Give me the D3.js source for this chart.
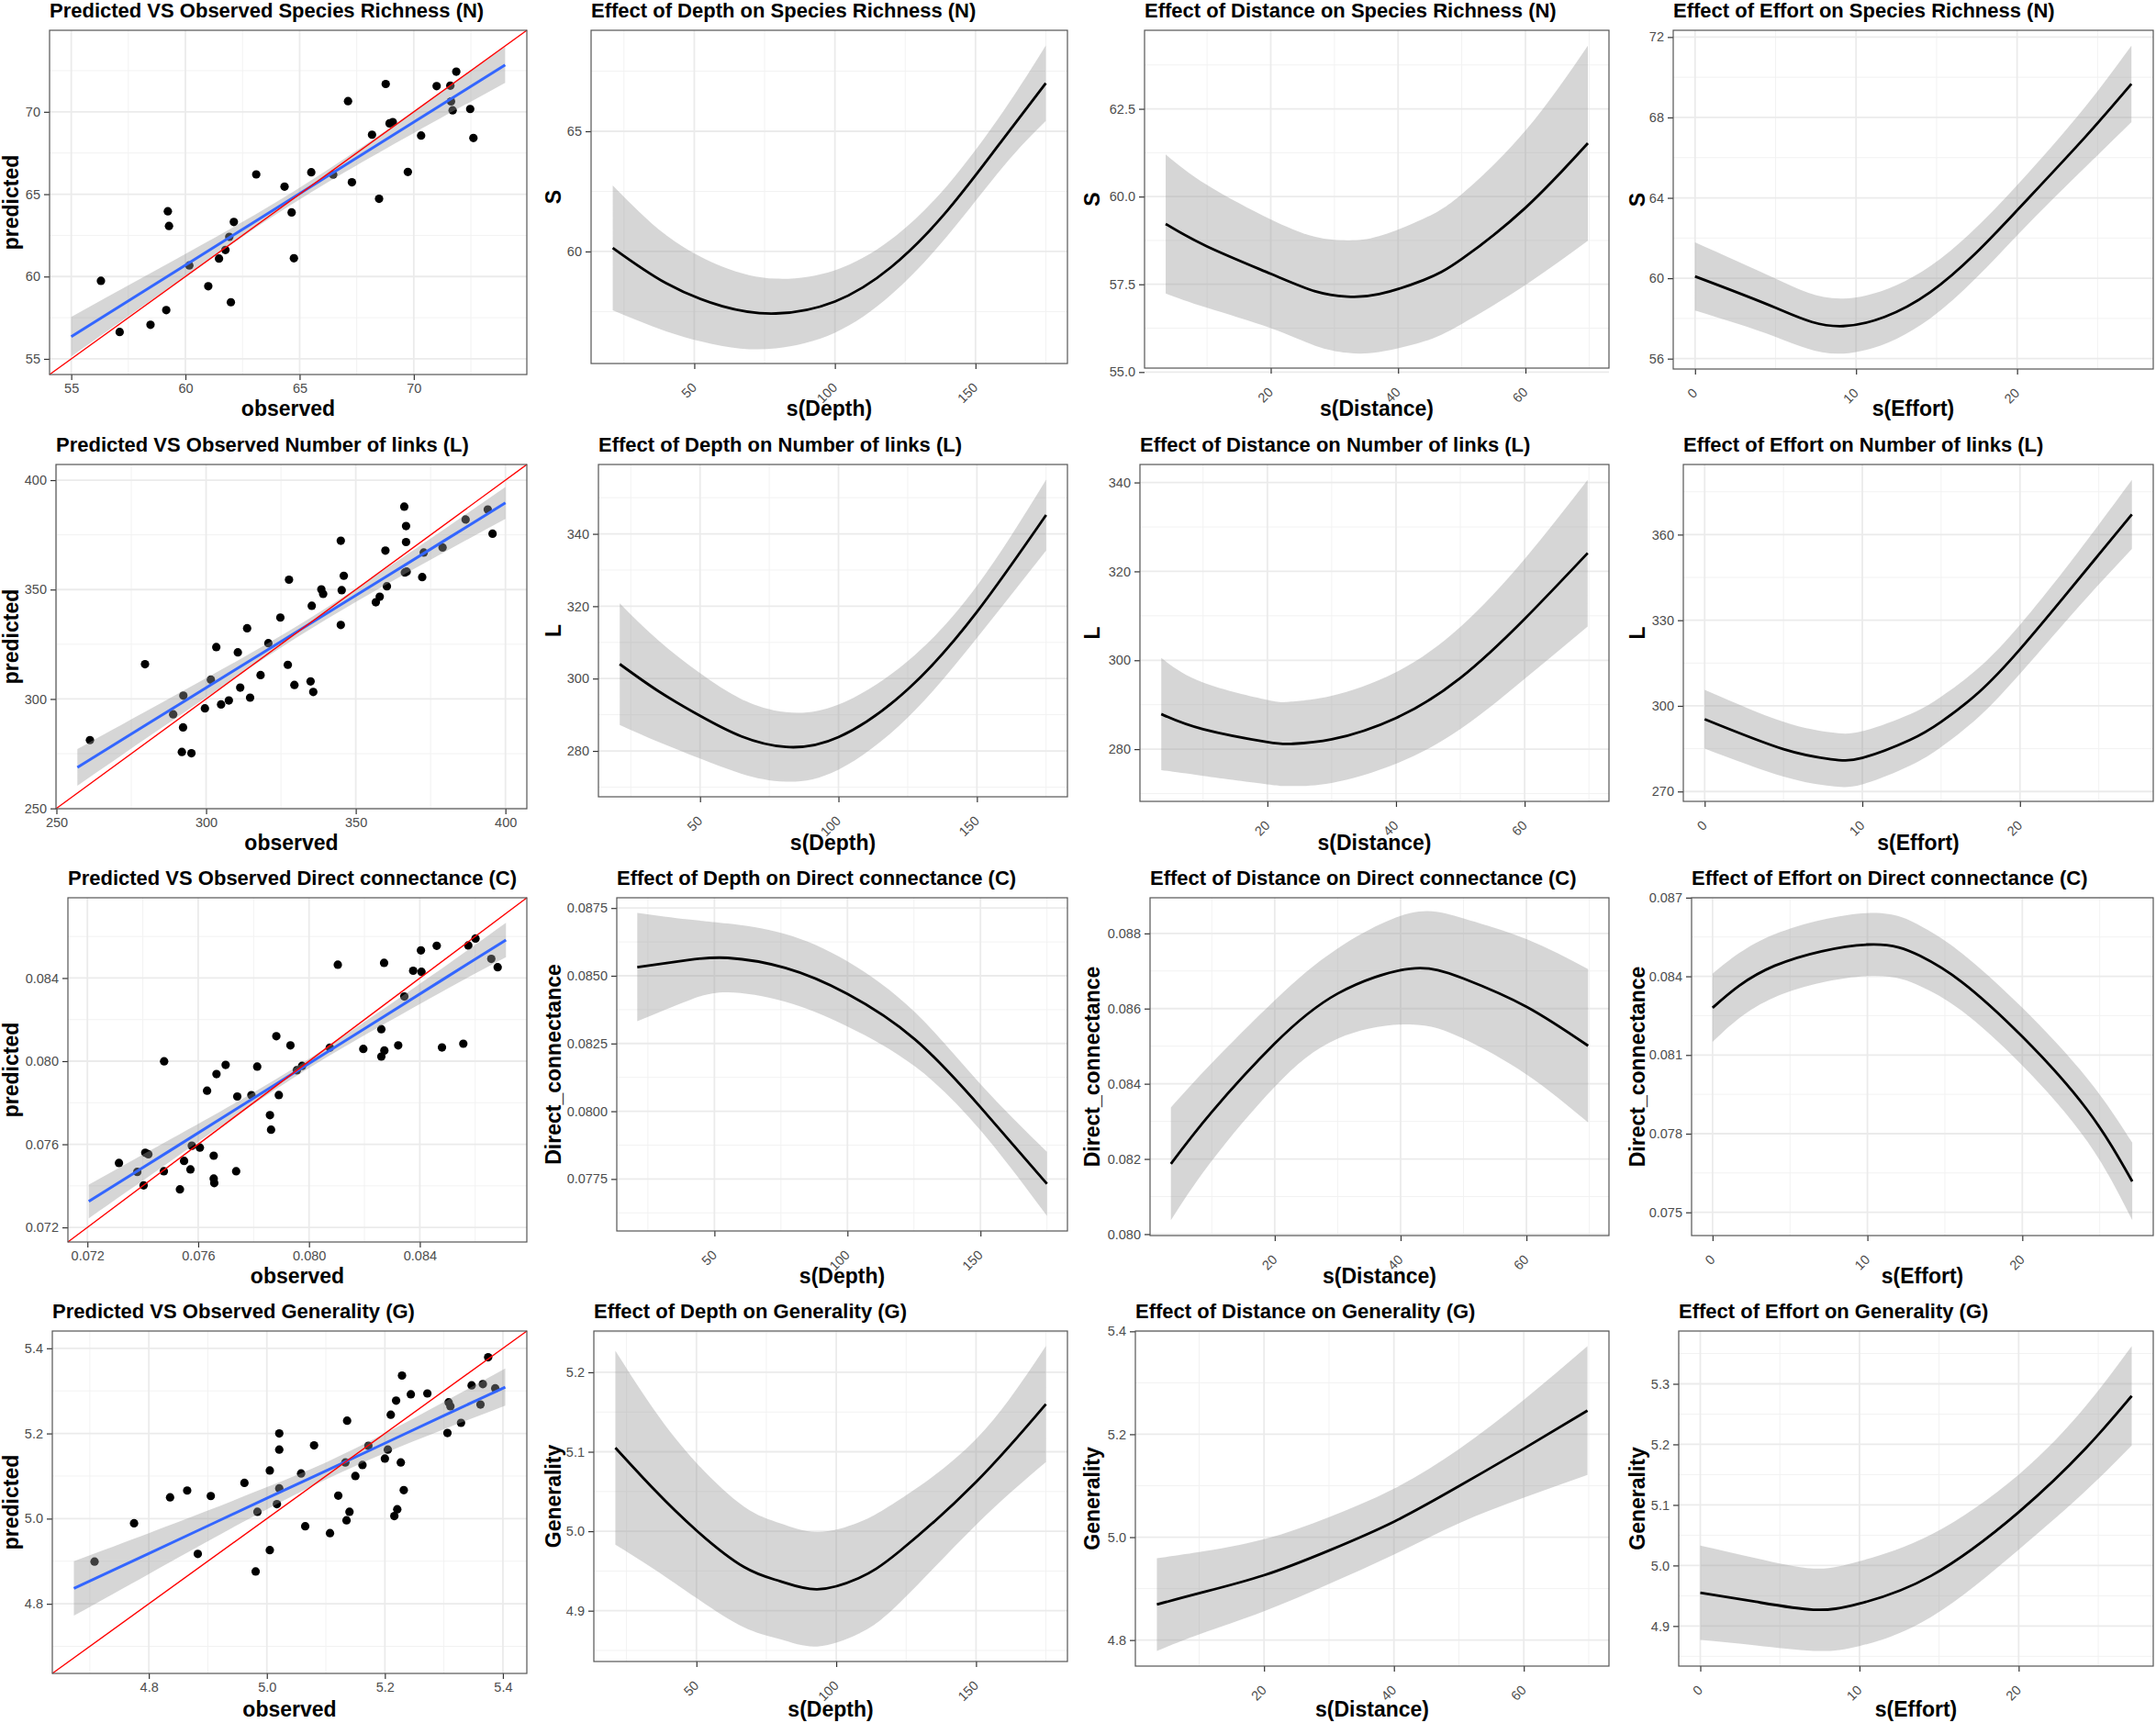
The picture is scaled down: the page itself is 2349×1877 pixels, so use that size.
<!DOCTYPE html>
<html>
<head>
<meta charset="utf-8">
<script src="https://cdn.jsdelivr.net/npm/d3@7"></script>
<style>
  body { margin: 0; background: #fff; }
</style>
</head>
<body>
<div id="chart"></div>
<script>
// ---- predicted vs observed (column 1) ----
var nObserved = [56.30, 57.12, 58.47, 59.16, 59.23, 59.28, 60.17, 61.00, 61.47, 61.75, 61.92, 61.99, 62.12, 63.10, 64.34, 64.65, 64.75, 65.51, 66.47, 67.12, 67.29, 68.17, 68.48, 68.77, 68.94, 69.08, 69.74, 70.32, 71.00, 71.60, 71.63, 71.70, 71.86, 72.47, 72.61];
var nPredicted = [59.74, 56.63, 57.07, 57.96, 63.96, 63.07, 60.67, 59.41, 61.09, 61.61, 62.41, 58.44, 63.31, 66.20, 65.46, 63.89, 61.11, 66.33, 66.19, 70.65, 65.72, 68.61, 64.72, 71.69, 69.30, 69.37, 66.35, 68.56, 71.56, 71.59, 70.63, 70.09, 72.44, 70.17, 68.41];
var nFitX = [55, 58, 61, 64, 67, 70, 74];
var nFitY = [56.35, 58.96, 61.56, 64.17, 66.77, 69.38, 72.85];
var nFitCi = [1.20, 0.88, 0.58, 0.37, 0.42, 0.67, 1.09];
var nTicks = ["55", "60", "65", "70"];

var lObserved = [261.2, 279.6, 289.0, 292.3, 291.9, 295.1, 292.4, 299.6, 301.6, 303.4, 305.0, 307.6, 310.6, 311.4, 313.7, 314.7, 318.2, 320.8, 324.8, 327.3, 327.7, 329.5, 334.9, 335.3, 335.8, 338.5, 339.1, 345.0, 345.0, 345.3, 346.0, 356.7, 358.0, 359.9, 360.4, 366.2, 366.8, 366.8, 366.4, 367.0, 372.2, 372.7, 379.0, 386.7, 394.1, 395.7];
var lPredicted = [281.2, 315.9, 293.0, 287.0, 275.8, 275.2, 301.5, 295.7, 308.8, 323.7, 297.5, 299.3, 321.3, 305.2, 332.3, 300.6, 310.9, 325.5, 337.2, 315.6, 354.5, 306.4, 308.0, 342.6, 303.2, 350.1, 348.0, 372.3, 333.8, 349.7, 356.3, 344.2, 346.7, 367.8, 351.5, 387.9, 379.0, 371.7, 357.8, 358.2, 355.7, 366.9, 369.2, 382.0, 386.6, 375.5];
var lFitX = [257, 280, 300, 320, 340, 360, 380, 400];
var lFitY = [268.7, 288.2, 305.1, 322.0, 338.9, 355.8, 372.7, 389.6];
var lFitCi = [8.4, 6.2, 4.4, 2.9, 2.6, 3.6, 5.3, 7.3];
var lTicks = ["250", "300", "350", "400"];

var cObserved = [0.07314, 0.07380, 0.07403, 0.07409, 0.07420, 0.07476, 0.07477, 0.07534, 0.07549, 0.07572, 0.07577, 0.07606, 0.07632, 0.07656, 0.07656, 0.07658, 0.07666, 0.07699, 0.07737, 0.07741, 0.07792, 0.07813, 0.07859, 0.07863, 0.07882, 0.07891, 0.07933, 0.07956, 0.07975, 0.08075, 0.08104, 0.08196, 0.08261, 0.08261, 0.08272, 0.08271, 0.08322, 0.08344, 0.08376, 0.08404, 0.08406, 0.08461, 0.08480, 0.08557, 0.08575, 0.08601, 0.08658, 0.08681];
var cPredicted = [0.07510, 0.07467, 0.07402, 0.07559, 0.07552, 0.07470, 0.07999, 0.07383, 0.07520, 0.07479, 0.07593, 0.07584, 0.07858, 0.07545, 0.07435, 0.07413, 0.07938, 0.07982, 0.07470, 0.07830, 0.07836, 0.07974, 0.07740, 0.07670, 0.08120, 0.07837, 0.08076, 0.07956, 0.07977, 0.08065, 0.08464, 0.08059, 0.08154, 0.08022, 0.08051, 0.08473, 0.08076, 0.08311, 0.08435, 0.08533, 0.08430, 0.08555, 0.08066, 0.08084, 0.08557, 0.08590, 0.08492, 0.08452];
var cFitX = [0.07205, 0.0750, 0.0775, 0.0800, 0.0825, 0.0850, 0.08711];
var cFitY = [0.07325, 0.07571, 0.07780, 0.07989, 0.08198, 0.08407, 0.08583];
var cFitCi = [0.00081, 0.00053, 0.00031, 0.00022, 0.00036, 0.00058, 0.00083];
var cTicks = ["0.072", "0.076", "0.080", "0.084"];

var gObserved = [4.708, 4.775, 4.836, 4.865, 4.883, 4.905, 4.962, 4.981, 4.984, 5.005, 5.005, 5.017, 5.021, 5.021, 5.021, 5.058, 5.065, 5.080, 5.107, 5.121, 5.133, 5.135, 5.136, 5.140, 5.150, 5.162, 5.172, 5.200, 5.205, 5.210, 5.216, 5.221, 5.219, 5.227, 5.232, 5.229, 5.244, 5.272, 5.306, 5.308, 5.311, 5.329, 5.347, 5.362, 5.366, 5.375, 5.387];
var gPredicted = [4.899, 4.989, 5.050, 5.066, 4.917, 5.053, 5.084, 4.876, 5.016, 5.113, 4.926, 5.034, 5.200, 5.162, 5.071, 5.106, 4.982, 5.172, 4.966, 5.054, 5.132, 4.996, 5.230, 5.016, 5.100, 5.126, 5.171, 5.141, 5.162, 5.244, 5.006, 5.022, 5.277, 5.132, 5.067, 5.336, 5.292, 5.294, 5.201, 5.273, 5.264, 5.225, 5.313, 5.268, 5.316, 5.379, 5.306];
var gFitX = [4.673, 4.8, 4.9, 5.0, 5.1, 5.2, 5.3, 5.404];
var gFitY = [4.836, 4.918, 4.983, 5.048, 5.112, 5.177, 5.242, 5.309];
var gFitCi = [0.064, 0.048, 0.036, 0.026, 0.020, 0.023, 0.032, 0.0435];
var gTicks = ["4.8", "5.0", "5.2", "5.4"];

// ---- smooth effects (columns 2-4) ----
var depthTicks = ["50", "100", "150"];
var distanceTicks = ["20", "40", "60"];
var effortTicks = ["0", "10", "20"];

var sDepthX = [21, 40, 60, 79, 100, 120, 140, 160, 175];
var sDepthFit = [60.15, 58.68, 57.72, 57.42, 57.92, 59.35, 61.70, 64.70, 67.00];
var sDepthCi = [2.6, 2.0, 1.65, 1.45, 1.3, 1.15, 1.05, 1.15, 1.57];
var sDepthTicks = ["60", "65"];

var sDistanceX = [3.5, 10, 20, 27, 32, 37, 44, 50, 60, 69.8];
var sDistanceFit = [59.22, 58.58, 57.80, 57.30, 57.15, 57.22, 57.62, 58.22, 59.68, 61.52];
var sDistanceCi = [1.98, 1.75, 1.55, 1.55, 1.6, 1.65, 1.75, 1.85, 2.2, 2.78];
var sDistanceTicks = ["55.0", "57.5", "60.0", "62.5"];

var sEffortX = [0, 5, 9.2, 14.6, 20, 24.2, 27.1];
var sEffortFit = [60.09, 58.53, 57.62, 59.30, 63.38, 67.00, 69.67];
var sEffortCi = [1.7, 1.45, 1.37, 1.3, 1.25, 1.5, 1.9];
var sEffortTicks = ["56", "60", "64", "68", "72"];

var lDepthX = [21, 35, 50, 65, 81, 100, 125, 150, 175];
var lDepthFit = [304.0, 296.5, 289.7, 284.0, 281.1, 283.8, 297.0, 318.4, 345.2];
var lDepthCi = [16.8, 14.0, 11.8, 10.3, 9.6, 9.0, 7.8, 7.2, 9.8];
var lDepthTicks = ["280", "300", "320", "340"];

var lDistanceX = [3.5, 10, 20, 23.7, 30, 40, 50, 60, 69.8];
var lDistanceFit = [287.9, 284.5, 281.6, 281.2, 282.2, 287.0, 296.0, 309.3, 324.1];
var lDistanceCi = [12.6, 10.5, 9.5, 9.5, 9.8, 10.3, 11.5, 13.5, 16.5];
var lDistanceTicks = ["280", "300", "320", "340"];

var lEffortX = [0, 5, 8, 10, 13, 15, 17.4, 20, 22.8, 25, 27.1];
var lEffortFit = [295.3, 284.8, 281.3, 281.8, 288.0, 294.4, 304.8, 319.8, 338.2, 353.0, 367.1];
var lEffortCi = [10.3, 9.6, 9.4, 9.3, 9.0, 8.8, 8.6, 8.6, 9.3, 10.5, 12.1];
var lEffortTicks = ["270", "300", "330", "360"];

var cDepthX = [21, 40, 55, 76.6, 100, 125.4, 150, 175];
var cDepthFit = [0.08532, 0.08558, 0.08566, 0.08529, 0.08433, 0.08265, 0.08015, 0.07732];
var cDepthCi = [0.0020, 0.0015, 0.00127, 0.00125, 0.0012, 0.0010, 0.00085, 0.00118];
var cDepthTicks = ["0.0775", "0.0800", "0.0825", "0.0850", "0.0875"];

var cDistanceX = [3.5, 10, 20, 30, 41.5, 50, 60, 69.8];
var cDistanceFit = [0.08187, 0.08325, 0.08507, 0.08640, 0.08706, 0.08680, 0.08605, 0.08501];
var cDistanceCi = [0.0015, 0.0013, 0.00115, 0.0012, 0.00148, 0.0016, 0.0018, 0.00204];
var cDistanceTicks = ["0.080", "0.082", "0.084", "0.086", "0.088"];

var cEffortX = [0, 4, 10, 13.4, 16.1, 20, 24.2, 27.1];
var cEffortFit = [0.0828, 0.0844, 0.08521, 0.08478, 0.08378, 0.08170, 0.07890, 0.07618];
var cEffortCi = [0.0013, 0.0012, 0.0012, 0.00115, 0.0011, 0.0011, 0.0012, 0.00148];
var cEffortTicks = ["0.075", "0.078", "0.081", "0.084", "0.087"];

var gDepthX = [21, 35, 50, 67, 80, 93.2, 108, 122.7, 150, 175];
var gDepthFit = [5.105, 5.052, 5.001, 4.955, 4.937, 4.927, 4.941, 4.975, 5.062, 5.160];
var gDepthCi = [0.122, 0.100, 0.085, 0.076, 0.073, 0.072, 0.070, 0.065, 0.054, 0.073];
var gDepthTicks = ["4.9", "5.0", "5.1", "5.2"];

var gDistanceX = [3.5, 10, 20, 30, 40, 50, 60, 69.8];
var gDistanceFit = [4.869, 4.891, 4.926, 4.974, 5.030, 5.099, 5.172, 5.246];
var gDistanceCi = [0.090, 0.080, 0.070, 0.065, 0.064, 0.072, 0.095, 0.125];
var gDistanceTicks = ["4.8", "5.0", "5.2", "5.4"];

var gEffortX = [0, 3.5, 7.1, 10, 14.5, 20, 24.2, 27.1];
var gEffortFit = [4.955, 4.940, 4.927, 4.937, 4.983, 5.088, 5.193, 5.280];
var gEffortCi = [0.078, 0.072, 0.068, 0.070, 0.068, 0.062, 0.070, 0.082];
var gEffortTicks = ["4.9", "5.0", "5.1", "5.2", "5.3"];

var FONT = "'Liberation Sans', Arial, Helvetica, sans-serif";

// panel boxes [left, right, top, bottom] per row and column
var boxes = [
    [[54, 574, 33, 408], [644, 1163, 33, 396], [1247, 1753, 33, 401], [1823, 2346, 33, 402]],
    [[61, 574, 506, 881], [652, 1163, 506, 868], [1242, 1753, 506, 873], [1834, 2346, 506, 873]],
    [[74, 574, 978, 1353], [672, 1163, 978, 1341], [1253, 1753, 978, 1346], [1843, 2346, 978, 1346]],
    [[57, 574, 1450, 1823], [647, 1163, 1450, 1810], [1237, 1753, 1450, 1815], [1829, 2346, 1450, 1815]]
];
var yTitleX = [20, 611, 1198, 1792];

var svg = d3.select("#chart").append("svg")
    .attr("width", 2349)
    .attr("height", 1877)
    .style("display", "block");
svg.append("rect").attr("width", 2349).attr("height", 1877).attr("fill", "#ffffff");

function pad(ext) {
    var d = (ext[1] - ext[0]) * 0.05;
    return [ext[0] - d, ext[1] + d];
}

function minorBreaks(major, dom) {
    var step = major[1] - major[0];
    var ext = [major[0] - step].concat(major, [major[major.length - 1] + step]);
    var out = [];
    for (var i = 0; i < ext.length - 1; i++) {
        var m = (ext[i] + ext[i + 1]) / 2;
        if (m >= dom[0] && m <= dom[1]) out.push(m);
    }
    return out;
}

function rows(xs, ys, cis) {
    return xs.map(function(d, i) { return { x: d, y: ys[i], ci: cis ? cis[i] : 0 }; });
}

// grid, axes, titles; returns scales
function frame(box, xDom, yDom, xLabels, yLabels, rotateX, title, xTitle, yTitle, col) {
    var g = svg.append("g");
    var x = d3.scaleLinear().domain(xDom).range([box[0], box[1]]);
    var y = d3.scaleLinear().domain(yDom).range([box[3], box[2]]);
    var xVals = xLabels.map(Number), yVals = yLabels.map(Number);

    var grid = g.append("g");
    grid.selectAll(".xmin").data(minorBreaks(xVals, xDom)).enter().append("line")
        .attr("x1", x).attr("x2", x).attr("y1", box[2]).attr("y2", box[3])
        .attr("stroke", "#f2f2f2").attr("stroke-width", 1);
    grid.selectAll(".ymin").data(minorBreaks(yVals, yDom)).enter().append("line")
        .attr("y1", y).attr("y2", y).attr("x1", box[0]).attr("x2", box[1])
        .attr("stroke", "#f2f2f2").attr("stroke-width", 1);
    grid.selectAll(".xmaj").data(xVals).enter().append("line")
        .attr("x1", x).attr("x2", x).attr("y1", box[2]).attr("y2", box[3])
        .attr("stroke", "#ebebeb").attr("stroke-width", 1.8);
    grid.selectAll(".ymaj").data(yVals).enter().append("line")
        .attr("y1", y).attr("y2", y).attr("x1", box[0]).attr("x2", box[1])
        .attr("stroke", "#ebebeb").attr("stroke-width", 1.8);

    var marks = g.append("g");

    var xAxis = g.append("g")
        .attr("transform", "translate(0," + box[3] + ")")
        .call(d3.axisBottom(x).tickValues(xVals)
            .tickFormat(function(d, i) { return xLabels[i]; })
            .tickSizeOuter(0).tickSize(6).tickPadding(4));
    var yAxis = g.append("g")
        .attr("transform", "translate(" + box[0] + ",0)")
        .call(d3.axisLeft(y).tickValues(yVals)
            .tickFormat(function(d, i) { return yLabels[i]; })
            .tickSizeOuter(0).tickSize(6).tickPadding(4));
    [xAxis, yAxis].forEach(function(a) {
        a.attr("font-family", FONT).attr("font-size", 14.5);
        a.select(".domain").remove();
        a.selectAll("line").attr("stroke", "#333333").attr("stroke-width", 1.2);
        a.selectAll("text").attr("fill", "#4d4d4d");
    });
    if (rotateX) {
        xAxis.selectAll("text")
            .attr("x", 0).attr("y", 0).attr("dy", 0)
            .attr("text-anchor", "end")
            .attr("transform", "translate(3,27) rotate(-45)");
    }

    g.append("rect")
        .attr("x", box[0]).attr("y", box[2])
        .attr("width", box[1] - box[0]).attr("height", box[3] - box[2])
        .attr("fill", "none").attr("stroke", "#555555").attr("stroke-width", 1.2);

    g.append("text")
        .attr("x", box[0]).attr("y", box[2] - 14)
        .attr("font-family", FONT).attr("font-size", 22).attr("font-weight", "bold")
        .attr("fill", "#000").text(title);
    g.append("text")
        .attr("x", (box[0] + box[1]) / 2).attr("y", box[2] + 420)
        .attr("text-anchor", "middle")
        .attr("font-family", FONT).attr("font-size", 23).attr("font-weight", "bold")
        .attr("fill", "#000").text(xTitle);
    g.append("text")
        .attr("transform", "translate(" + yTitleX[col] + "," + ((box[2] + box[3]) / 2) + ") rotate(-90)")
        .attr("text-anchor", "middle")
        .attr("font-family", FONT).attr("font-size", 23).attr("font-weight", "bold")
        .attr("fill", "#000").text(yTitle);

    return { x: x, y: y, marks: marks };
}

function drawScatter(box, obs, pred, fitX, fitY, fitCi, ticks, title) {
    var dom = pad(d3.extent(fitX));
    var f = frame(box, dom, dom, ticks, ticks, false, title, "observed", "predicted", 0);
    var x = f.x, y = f.y;
    var pts = obs.map(function(d, i) { return [d, pred[i]]; });
    var fit = rows(fitX, fitY, fitCi);

    f.marks.selectAll("circle").data(pts).enter().append("circle")
        .attr("cx", function(d) { return x(d[0]); })
        .attr("cy", function(d) { return y(d[1]); })
        .attr("r", 4.6)
        .attr("fill", "#000");

    f.marks.append("path")
        .datum(fit)
        .attr("fill", "#999999").attr("fill-opacity", 0.4)
        .attr("d", d3.area()
            .x(function(d) { return x(d.x); })
            .y0(function(d) { return y(d.y - d.ci); })
            .y1(function(d) { return y(d.y + d.ci); })
            .curve(d3.curveNatural));

    f.marks.append("path")
        .datum(fit)
        .attr("fill", "none").attr("stroke", "#3366ff").attr("stroke-width", 3)
        .attr("d", d3.line()
            .x(function(d) { return x(d.x); })
            .y(function(d) { return y(d.y); }));

    f.marks.append("path")
        .datum(dom)
        .attr("fill", "none").attr("stroke", "#ff0000").attr("stroke-width", 1.4)
        .attr("d", d3.line()
            .x(function(d) { return x(d); })
            .y(function(d) { return y(d); }));
}

function drawEffect(box, col, xs, fitY, ci, xTicks, yTicks, title, xTitle, yTitle) {
    var data = rows(xs, fitY, ci);
    var xDom = pad(d3.extent(xs));
    var yDom = pad([d3.min(data, function(d) { return d.y - d.ci; }),
                    d3.max(data, function(d) { return d.y + d.ci; })]);
    var f = frame(box, xDom, yDom, xTicks, yTicks, true, title, xTitle, yTitle, col);
    var x = f.x, y = f.y;

    f.marks.append("path")
        .datum(data)
        .attr("fill", "#999999").attr("fill-opacity", 0.4)
        .attr("d", d3.area()
            .x(function(d) { return x(d.x); })
            .y0(function(d) { return y(d.y - d.ci); })
            .y1(function(d) { return y(d.y + d.ci); })
            .curve(d3.curveNatural));

    f.marks.append("path")
        .datum(data)
        .attr("fill", "none").attr("stroke", "#000").attr("stroke-width", 2.8)
        .attr("d", d3.line()
            .x(function(d) { return x(d.x); })
            .y(function(d) { return y(d.y); })
            .curve(d3.curveNatural));
}

// row 1: species richness
drawScatter(boxes[0][0], nObserved, nPredicted, nFitX, nFitY, nFitCi, nTicks, "Predicted VS Observed Species Richness (N)");
drawEffect(boxes[0][1], 1, sDepthX, sDepthFit, sDepthCi, depthTicks, sDepthTicks, "Effect of Depth on Species Richness (N)", "s(Depth)", "S");
drawEffect(boxes[0][2], 2, sDistanceX, sDistanceFit, sDistanceCi, distanceTicks, sDistanceTicks, "Effect of Distance on Species Richness (N)", "s(Distance)", "S");
drawEffect(boxes[0][3], 3, sEffortX, sEffortFit, sEffortCi, effortTicks, sEffortTicks, "Effect of Effort on Species Richness (N)", "s(Effort)", "S");

// row 2: number of links
drawScatter(boxes[1][0], lObserved, lPredicted, lFitX, lFitY, lFitCi, lTicks, "Predicted VS Observed Number of links (L)");
drawEffect(boxes[1][1], 1, lDepthX, lDepthFit, lDepthCi, depthTicks, lDepthTicks, "Effect of Depth on Number of links (L)", "s(Depth)", "L");
drawEffect(boxes[1][2], 2, lDistanceX, lDistanceFit, lDistanceCi, distanceTicks, lDistanceTicks, "Effect of Distance on Number of links (L)", "s(Distance)", "L");
drawEffect(boxes[1][3], 3, lEffortX, lEffortFit, lEffortCi, effortTicks, lEffortTicks, "Effect of Effort on Number of links (L)", "s(Effort)", "L");

// row 3: direct connectance
drawScatter(boxes[2][0], cObserved, cPredicted, cFitX, cFitY, cFitCi, cTicks, "Predicted VS Observed Direct connectance (C)");
drawEffect(boxes[2][1], 1, cDepthX, cDepthFit, cDepthCi, depthTicks, cDepthTicks, "Effect of Depth on Direct connectance (C)", "s(Depth)", "Direct_connectance");
drawEffect(boxes[2][2], 2, cDistanceX, cDistanceFit, cDistanceCi, distanceTicks, cDistanceTicks, "Effect of Distance on Direct connectance (C)", "s(Distance)", "Direct_connectance");
drawEffect(boxes[2][3], 3, cEffortX, cEffortFit, cEffortCi, effortTicks, cEffortTicks, "Effect of Effort on Direct connectance (C)", "s(Effort)", "Direct_connectance");

// row 4: generality
drawScatter(boxes[3][0], gObserved, gPredicted, gFitX, gFitY, gFitCi, gTicks, "Predicted VS Observed Generality (G)");
drawEffect(boxes[3][1], 1, gDepthX, gDepthFit, gDepthCi, depthTicks, gDepthTicks, "Effect of Depth on Generality (G)", "s(Depth)", "Generality");
drawEffect(boxes[3][2], 2, gDistanceX, gDistanceFit, gDistanceCi, distanceTicks, gDistanceTicks, "Effect of Distance on Generality (G)", "s(Distance)", "Generality");
drawEffect(boxes[3][3], 3, gEffortX, gEffortFit, gEffortCi, effortTicks, gEffortTicks, "Effect of Effort on Generality (G)", "s(Effort)", "Generality");
</script>
</body>
</html>
